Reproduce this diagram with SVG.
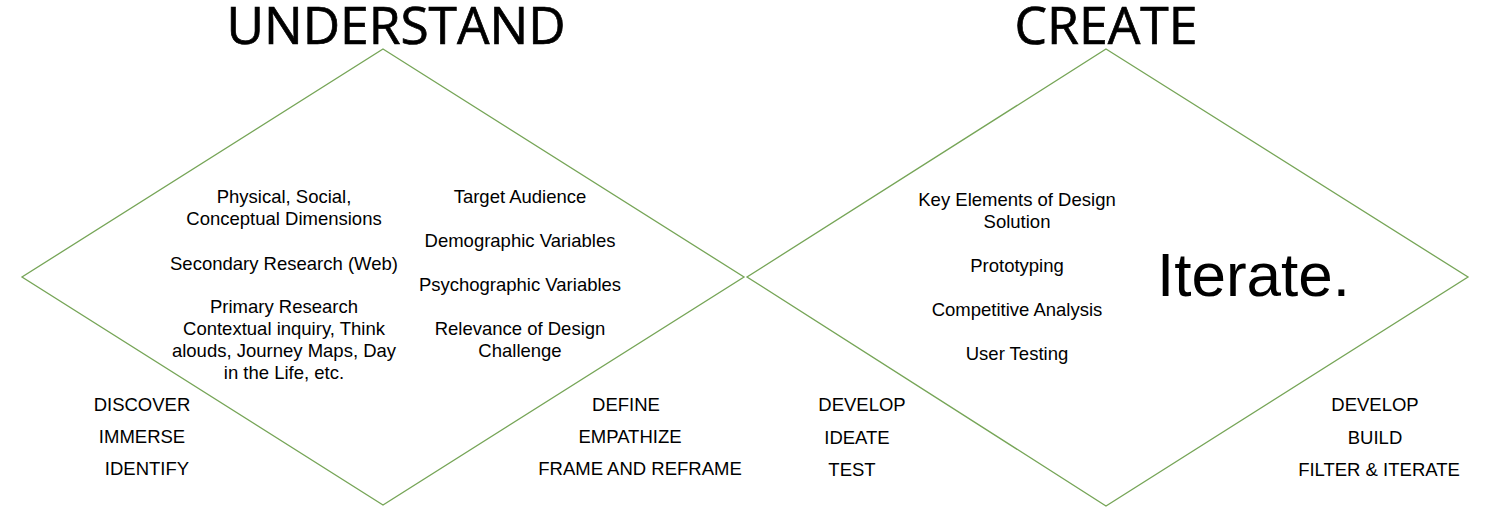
<svg xmlns="http://www.w3.org/2000/svg" width="1500" height="514" viewBox="0 0 1500 514">
<style>
.d{fill:none;stroke:#76a557;stroke-width:1.3}
.t{font-family:"Liberation Sans",Arial,sans-serif;font-size:18.5px;fill:#000;text-anchor:middle}
.h{font-family:"Open Sans","Noto Sans",sans-serif;font-size:52px;fill:#000;stroke:#000;stroke-width:0.7;text-anchor:middle}
</style>
<rect width="1500" height="514" fill="#fff"/>
<g id="connectors"></g>
<g id="understand">
<polygon class="d" points="383,49 744,277 383,505 22,277"/>
<text class="h" x="396" y="44" textLength="339" lengthAdjust="spacingAndGlyphs">UNDERSTAND</text>
<text class="t" x="284" y="203">Physical, Social,</text>
<text class="t" x="284" y="225">Conceptual Dimensions</text>
<text class="t" x="284" y="270">Secondary Research (Web)</text>
<text class="t" x="284" y="313">Primary Research</text>
<text class="t" x="284" y="335">Contextual inquiry, Think</text>
<text class="t" x="284" y="357">alouds, Journey Maps, Day</text>
<text class="t" x="284" y="379">in the Life, etc.</text>
<text class="t" x="520" y="203">Target Audience</text>
<text class="t" x="520" y="247">Demographic Variables</text>
<text class="t" x="520" y="291">Psychographic Variables</text>
<text class="t" x="520" y="335">Relevance of Design</text>
<text class="t" x="520" y="357">Challenge</text>
<text class="t" x="142" y="411">DISCOVER</text>
<text class="t" x="142" y="443">IMMERSE</text>
<text class="t" x="147" y="475">IDENTIFY</text>
<text class="t" x="626" y="411">DEFINE</text>
<text class="t" x="630" y="443">EMPATHIZE</text>
<text class="t" x="640" y="475">FRAME AND REFRAME</text>
</g>
<g id="create">
<polygon class="d" points="1106,49 1468,277 1106,506 747,277"/>
<text class="h" x="1106" y="44" textLength="183" lengthAdjust="spacingAndGlyphs">CREATE</text>
<text class="t" x="1017" y="206">Key Elements of Design</text>
<text class="t" x="1017" y="228">Solution</text>
<text class="t" x="1017" y="272">Prototyping</text>
<text class="t" x="1017" y="316">Competitive Analysis</text>
<text class="t" x="1017" y="360">User Testing</text>
<text style="font-family:'Liberation Sans',Arial,sans-serif;font-size:62px;fill:#000" x="1157" y="296">Iterate.</text>
<text class="t" x="862" y="411">DEVELOP</text>
<text class="t" x="857" y="444">IDEATE</text>
<text class="t" x="852" y="476">TEST</text>
<text class="t" x="1375" y="411">DEVELOP</text>
<text class="t" x="1375" y="444">BUILD</text>
<text class="t" x="1379" y="476">FILTER &amp; ITERATE</text>
</g>
</svg>
